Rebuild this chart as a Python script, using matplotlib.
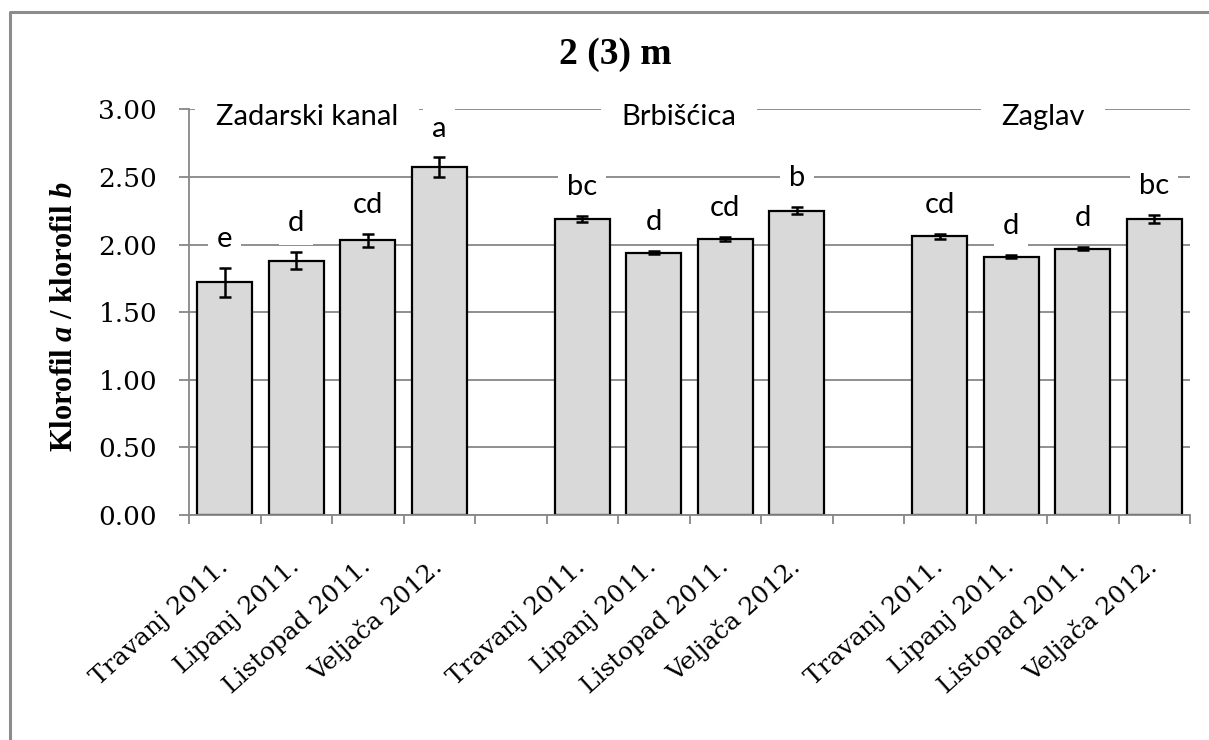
import matplotlib
matplotlib.use('Agg')
import matplotlib.pyplot as plt
from matplotlib.lines import Line2D
import numpy as np

# ---------------- data ----------------
groups = ['Zadarski kanal', 'Brbišćica', 'Zaglav']
months = ['Travanj 2011.', 'Lipanj 2011.', 'Listopad 2011.', 'Veljača 2012.']
values_zadar = [1.72, 1.88, 2.03, 2.57]
values_brbis = [2.19, 1.94, 2.04, 2.25]
values_zaglav = [2.06, 1.91, 1.97, 2.19]
errors_zadar = [0.105, 0.064, 0.046, 0.074]
errors_brbis = [0.022, 0.010, 0.015, 0.026]
errors_zaglav = [0.018, 0.011, 0.011, 0.032]
letters_zadar = ['e', 'd', 'cd', 'a']
letters_brbis = ['bc', 'd', 'cd', 'b']
letters_zaglav = ['cd', 'd', 'd', 'bc']
yticks = [0.0, 0.5, 1.0, 1.5, 2.0, 2.5, 3.0]
ytick_labels = ['0.00', '0.50', '1.00', '1.50', '2.00', '2.50', '3.00']
title = '2 (3) m'
ylabel = r'Klorofil $\mathit{a}$ / klorofil $\mathit{b}$'

values = [values_zadar, values_brbis, values_zaglav]
errors = [errors_zadar, errors_brbis, errors_zaglav]
letters = [letters_zadar, letters_brbis, letters_zaglav]

# ---------------- style ----------------
plt.rcParams['mathtext.fontset'] = 'custom'
plt.rcParams['mathtext.rm'] = 'Liberation Serif:bold'
plt.rcParams['mathtext.it'] = 'Liberation Serif:bold:italic'
plt.rcParams['mathtext.bf'] = 'Liberation Serif:bold'

GRID = '#878787'
BAR = '#d9d9d9'
SERIF_TICK = 'DejaVu Serif'
SANS = 'Lato'

fig = plt.figure(figsize=(12.09, 7.40), dpi=100)
ax = fig.add_axes([189 / 1209, 1 - 515 / 740, (1190 - 189) / 1209, (515 - 109.3) / 740])

slot_per_group = 5
n_slots = slot_per_group * len(groups) - 1
bar_w = 0.765

centers = []
center_labels = []
for g in range(len(groups)):
    xs = [g * slot_per_group + i + 0.5 for i in range(len(months))]
    ax.bar(xs, values[g], width=bar_w, color=BAR, edgecolor='black', linewidth=1.6, zorder=2)
    ax.errorbar(xs, values[g], yerr=errors[g], fmt='none', ecolor='black',
                elinewidth=1.8, capsize=4, capthick=1.8, zorder=3)
    for x, v, e, lab in zip(xs, values[g], errors[g], letters[g]):
        ax.annotate(lab, xy=(x, v + e), xytext=(0, 15), textcoords='offset points',
                    ha='center', va='baseline', fontsize=21, family=SANS, zorder=4,
                    bbox=dict(boxstyle='square,pad=0.3', fc='white', ec='none'))
    centers += xs
    center_labels += months

# group labels on the top gridline
group_dx = [-0.35, -0.15, -0.06]
for g, name in enumerate(groups):
    ax.text(g * slot_per_group + 2 + group_dx[g], 2.94, name, ha='center', va='center',
            fontsize=21, family=SANS, zorder=4, clip_on=False,
            bbox=dict(boxstyle='square,pad=0.7', fc='white', ec='none'))

ax.set_xlim(0, n_slots)
ax.set_ylim(0, 3.0)

# axes styling
for s in ['top', 'right']:
    ax.spines[s].set_visible(False)
for s in ['left', 'bottom']:
    ax.spines[s].set_color(GRID)
    ax.spines[s].set_linewidth(1.3)
ax.set_axisbelow(True)
ax.yaxis.grid(True, color=GRID, linewidth=1.3)

ax.set_yticks(yticks)
ax.set_yticklabels(ytick_labels, family=SERIF_TICK, fontsize=19)
ax.tick_params(axis='y', length=7.5, width=1.3, color=GRID, pad=15.5)

ax.set_xticks(np.arange(0, n_slots + 1))
ax.set_xticklabels([])
ax.tick_params(axis='x', which='major', length=6.5, width=1.3, color=GRID)
ax.set_xticks(centers, minor=True)
ax.set_xticklabels(center_labels, minor=True, family=SERIF_TICK, fontsize=18)
ax.tick_params(axis='x', which='minor', length=0, pad=35)
for t in ax.get_xticklabels(minor=True):
    t.set_rotation(42)
    t.set_ha('right')
    t.set_va('center')
    t.set_rotation_mode('anchor')

# title and y label
fig.text(615 / 1209, 1 - 54 / 740, title, ha='center', va='center',
         family='Liberation Serif', fontweight='bold', fontsize=27)
fig.text(65 / 1209, 1 - 316.5 / 740, ylabel, ha='center', va='center', rotation=90,
         family='Liberation Serif', fontweight='bold', fontsize=22)

# chart border (left and top edges visible)
bx, by = 10 / 1209, 1 - 12 / 740
fig.add_artist(Line2D([bx, bx, 1.0], [0.0, by, by], transform=fig.transFigure,
                      color='#8c8c8c', linewidth=2.2))

fig.savefig('out.png', dpi=100)
